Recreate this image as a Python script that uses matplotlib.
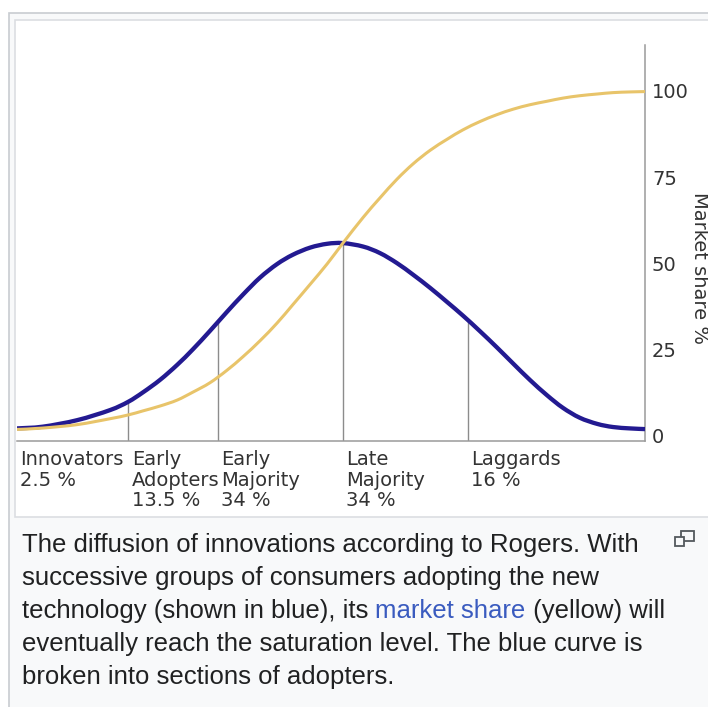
import numpy as np
import matplotlib.pyplot as plt
from matplotlib.patches import Rectangle, PathPatch
from matplotlib.path import Path

# Rogers' diffusion of innovations (Wikipedia thumbnail with caption)
# x axis has no units, so time runs 0..100 across the plot width

time = [0.0, 4.1, 9.6, 14.8, 17.7, 20.1, 22.8, 25.5, 28.0, 30.7, 33.4, 36.0,
        38.7, 41.4, 43.9, 46.7, 49.4, 51.9, 55.1, 57.8, 60.5, 63.1, 65.8, 68.5,
        71.0, 73.7, 76.4, 79.0, 81.7, 84.4, 86.9, 89.6, 92.4, 94.9, 97.6, 100.0]
# blue: share of consumers adopting at each moment
adopters = [2.2, 2.7, 4.6, 7.5, 9.9, 12.7, 16.3, 20.6, 25.1, 30.4, 35.9, 41.0,
            45.9, 49.8, 52.5, 54.6, 55.7, 55.9, 54.9, 53.0, 50.1, 46.7, 42.9, 38.8,
            34.9, 30.4, 25.7, 21.0, 16.2, 11.8, 8.2, 5.3, 3.5, 2.6, 2.2, 2.0]
# yellow: market share %
market_share = [1.9, 2.3, 3.3, 5.0, 6.1, 7.3, 8.7, 10.4, 12.7, 15.4, 19.0, 23.0,
                27.6, 32.7, 38.0, 44.0, 49.9, 55.9, 63.3, 69.0, 74.4, 78.9, 82.8, 86.0,
                88.7, 91.1, 93.1, 94.7, 96.0, 97.0, 97.9, 98.6, 99.1, 99.5, 99.7, 99.8]

group_start = [0.0, 17.7, 32.0, 51.9, 71.8]
group_names = [["Innovators"], ["Early", "Adopters"], ["Early", "Majority"],
               ["Late", "Majority"], ["Laggards"]]
group_share = ["2.5 %", "13.5 %", "34 %", "34 %", "16 %"]
share_ticks = [0, 25, 50, 75, 100]

caption = [
    "The diffusion of innovations according to Rogers. With",
    "successive groups of consumers adopting the new",
    ("technology (shown in blue), its ", "market share", " (yellow) will"),
    "eventually reach the saturation level. The blue curve is",
    "broken into sections of adopters.",
]

W, H = 708, 707
fig = plt.figure(figsize=(W / 100, H / 100), dpi=100)
fig.patch.set_facecolor("white")


def fx(x):
    return x / W


def fy(y):
    return 1 - y / H


def smooth_line(ax, x, y, **kw):
    # draw through the read points with bezier pieces instead of straight segments
    n = len(x)
    verts = [(x[0], y[0])]
    codes = [Path.MOVETO]
    for i in range(n - 1):
        i0 = max(i - 1, 0)
        i3 = min(i + 2, n - 1)
        c1 = (x[i] + (x[i + 1] - x[i0]) / 6, y[i] + (y[i + 1] - y[i0]) / 6)
        c2 = (x[i + 1] - (x[i3] - x[i]) / 6, y[i + 1] - (y[i3] - y[i]) / 6)
        verts += [c1, c2, (x[i + 1], y[i + 1])]
        codes += [Path.CURVE4] * 3
    ax.add_patch(PathPatch(Path(verts, codes), fill=False, **kw))


# thumbnail frame
fig.add_artist(Rectangle((fx(9), -0.01), 1, fy(13) + 0.01, transform=fig.transFigure,
                         facecolor="#f8f9fa", edgecolor="#c8ccd1", lw=1.2, zorder=-3))
fig.add_artist(Rectangle((fx(15), fy(517)), 1, fy(20) - fy(517), transform=fig.transFigure,
                         facecolor="white", edgecolor="#dcdee2", lw=1.2, zorder=-2))

ax = fig.add_axes([fx(17), fy(441), fx(645) - fx(17), fy(45) - fy(441)])
ax.patch.set_visible(False)
ax.set_xlim(0, 100)
ax.set_ylim(-1.45, 113.3)

smooth_line(ax, time, adopters, edgecolor="#231a91", lw=3.1, capstyle="butt", zorder=3)
smooth_line(ax, time, market_share, edgecolor="#e8c46a", lw=2.2, capstyle="butt", zorder=4)

# section lines up to the blue curve
bounds = group_start[1:]
tops = np.interp(bounds, time, adopters)
ax.vlines(bounds, ax.get_ylim()[0], tops, color="#8c8c8c", lw=1.0, zorder=2)

for sp in ["left", "top"]:
    ax.spines[sp].set_visible(False)
for sp in ["bottom", "right"]:
    ax.spines[sp].set_color("#9a9a9a")
    ax.spines[sp].set_linewidth(1.1)

ax.set_xticks([])
ax.yaxis.tick_right()
ax.set_yticks(share_ticks)
ax.tick_params(axis="y", length=0, pad=5, labelsize=14, labelcolor="#333333")

# group labels under the axis, one line at a time
for x0, names, share in zip(group_start, group_names, group_share):
    for k, line in enumerate(names + [share]):
        ax.annotate(line, xy=(x0, 0), xycoords=("data", "axes fraction"),
                    xytext=(2.5, -17.3 - 14.8 * k), textcoords="offset points",
                    ha="left", va="baseline", fontsize=14, color="#333333")

fig.text(fx(700), fy(268), "Market share %", rotation=270, ha="center", va="center",
         fontsize=14, color="#333333")

# caption
cap_kw = dict(fontsize=18.5, family="Liberation Sans", color="#202122", va="baseline", ha="left")
fig.canvas.draw()
r = fig.canvas.get_renderer()


def width_px(s):
    t = fig.text(0, 0, s, **cap_kw)
    w = t.get_window_extent(r).width
    t.remove()
    return w


for i, line in enumerate(caption):
    y = fy(552 + 33 * i)
    if isinstance(line, tuple):
        x = 22
        for j, part in enumerate(line):
            col = "#3a5bbf" if j == 1 else "#202122"
            fig.text(fx(x), y, part, **{**cap_kw, "color": col})
            x += width_px(part + "m") - width_px("m")
    else:
        fig.text(fx(22), y, line, **cap_kw)

# enlarge icon
fig.add_artist(Rectangle((fx(681), fy(541)), fx(13), fy(531) - fy(541), transform=fig.transFigure,
                         facecolor="none", edgecolor="#54595d", lw=1.3, zorder=5))
fig.add_artist(Rectangle((fx(675), fy(546)), fx(9), fy(537) - fy(546), transform=fig.transFigure,
                         facecolor="#f8f9fa", edgecolor="#54595d", lw=1.3, zorder=6))

fig.savefig("out.png", dpi=100)
